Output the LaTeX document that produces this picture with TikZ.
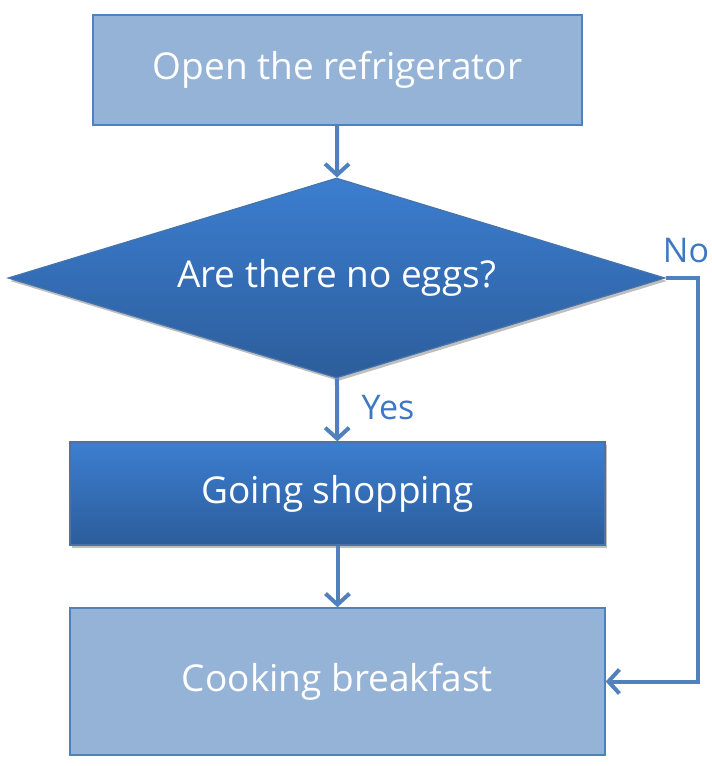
\documentclass[tikz,border=0pt]{standalone}
\usepackage{fontspec}
\setmainfont{Open Sans}
\usepackage{tikz}
\usetikzlibrary{arrows.meta, positioning, shapes.geometric, shadows}
\definecolor{ln}{HTML}{4F81BD}
\definecolor{lite}{HTML}{95B3D7}
\definecolor{gtop}{HTML}{3C7ED0}
\definecolor{gbot}{HTML}{2C5D9B}
\definecolor{lbl}{HTML}{3F78C2}

\begin{document}
\begin{tikzpicture}[x=1pt, y=-1pt, font=\fontsize{37}{44}\selectfont,
    soft/.style={draw=ln, line width=1.4pt, fill=lite, text=white, minimum width=#1},
    deep/.style={draw=ln!90!black, line width=1.2pt, top color=gtop, bottom color=gbot, text=white,
      drop shadow={shadow xshift=2pt, shadow yshift=-3pt, opacity=.25, fill=black}},
    flow/.style={ln, line width=4pt, -{Straight Barb[length=11pt, width=24pt, line width=4pt]}},
    tag/.style={text=lbl, font=\fontsize{34}{40}\selectfont}]
  \useasboundingbox (0,0) rectangle (712,766);
  \node[soft=489pt, minimum height=110pt] (fridge) at (337.5,70) {Open the refrigerator};
  \node[deep, diamond, shape aspect=3.285, minimum width=657pt, minimum height=200pt, inner sep=0pt] (eggs) at (336.5,278) {Are there no eggs?};
  \node[deep, minimum width=535pt, minimum height=103pt] (shop) at (337.5,493.5) {Going shopping};
  \node[soft=535pt, minimum height=147pt] (cook) at (337.5,681.5) {Cooking breakfast};
  \coordinate (turn) at (698,278);

  \draw[flow] (fridge) -- (eggs);
  \draw[flow] (eggs) -- (shop);
  \draw[flow] (shop) -- (cook);
  \draw[flow] (eggs.east) -- (turn) |- (cook.east);
  \node[tag] (yes) at (388,408) {Yes};
  \node[tag] (no) at (686,251) {No};
\end{tikzpicture}
\end{document}
